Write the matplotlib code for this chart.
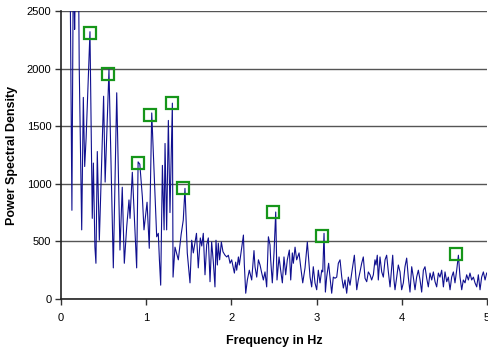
import matplotlib
matplotlib.use("Agg")
import matplotlib.pyplot as plt

# Spectrum line vertices (Hz, PSD)
freq = [0.100, 0.128, 0.145, 0.160, 0.175, 0.205, 0.214, 0.243, 0.262, 0.278, 0.295, 0.340, 0.367, 0.380,
        0.398, 0.410, 0.426, 0.450, 0.500, 0.518, 0.563, 0.614, 0.654, 0.692, 0.719, 0.743, 0.771, 0.798,
        0.810, 0.837, 0.888, 0.905, 0.925, 0.955, 0.974, 1.010, 1.036, 1.065, 1.123, 1.142, 1.155, 1.170,
        1.190, 1.210, 1.221, 1.240, 1.260, 1.279, 1.307, 1.315, 1.338, 1.377, 1.410, 1.435, 1.455, 1.482,
        1.514, 1.534, 1.553, 1.590, 1.611, 1.635, 1.652, 1.670, 1.690, 1.710, 1.729, 1.749, 1.768, 1.788,
        1.807, 1.819, 1.835, 1.846, 1.862, 1.882, 1.901, 1.925, 1.945, 1.964, 1.984, 2.003, 2.023, 2.035,
        2.050, 2.062, 2.082, 2.093, 2.121, 2.141, 2.151, 2.168, 2.187, 2.210, 2.238, 2.265, 2.277, 2.297,
        2.317, 2.336, 2.356, 2.375, 2.394, 2.414, 2.434, 2.453, 2.461, 2.480, 2.500, 2.520, 2.535, 2.559,
        2.578, 2.598, 2.617, 2.637, 2.656, 2.680, 2.696, 2.715, 2.727, 2.747, 2.766, 2.794, 2.813, 2.837,
        2.864, 2.891, 2.923, 2.942, 2.961, 2.981, 3.001, 3.020, 3.040, 3.060, 3.072, 3.087, 3.103, 3.118,
        3.141, 3.157, 3.177, 3.196, 3.216, 3.236, 3.255, 3.275, 3.295, 3.314, 3.333, 3.353, 3.372, 3.392,
        3.412, 3.443, 3.471, 3.489, 3.509, 3.529, 3.548, 3.568, 3.588, 3.607, 3.627, 3.646, 3.666, 3.685,
        3.697, 3.712, 3.724, 3.744, 3.764, 3.783, 3.803, 3.822, 3.842, 3.862, 3.881, 3.893, 3.908, 3.920,
        3.940, 3.959, 3.979, 3.998, 4.018, 4.037, 4.057, 4.076, 4.096, 4.116, 4.135, 4.155, 4.174, 4.194,
        4.214, 4.233, 4.253, 4.272, 4.292, 4.311, 4.331, 4.351, 4.370, 4.390, 4.409, 4.429, 4.448, 4.468,
        4.488, 4.507, 4.527, 4.546, 4.566, 4.585, 4.605, 4.624, 4.644, 4.664, 4.683, 4.703, 4.722, 4.742,
        4.761, 4.781, 4.800, 4.820, 4.840, 4.859, 4.879, 4.898, 4.918, 4.937, 4.957, 4.977, 4.996]
psd = [3500, 770, 3000, 2340, 3000, 2900, 2010, 600, 1750, 1150, 1400, 2320, 700, 1180,
       450, 310, 1280, 510, 1760, 1015, 1990, 270, 1790, 425, 970, 310, 625, 860,
       700, 1100, 270, 1190, 1170, 885, 600, 840, 440, 1615, 540, 570, 340, 120,
       1160, 600, 1350, 600, 1550, 750, 1700, 190, 450, 340, 560, 685, 960, 400,
       140, 510, 400, 570, 270, 530, 460, 570, 210, 470, 530, 150, 495, 320,
       105, 510, 295, 485, 340, 495, 410, 380, 365, 380, 310, 340, 270, 225,
       320, 250, 365, 295, 450, 555, 310, 50, 165, 250, 165, 420, 280, 190,
       340, 295, 225, 165, 235, 105, 540, 470, 340, 140, 400, 755, 165, 365,
       250, 140, 365, 210, 340, 425, 165, 400, 310, 450, 340, 400, 280, 140,
       270, 495, 190, 105, 280, 140, 80, 250, 140, 250, 235, 570, 60, 190,
       310, 190, 50, 190, 180, 190, 310, 340, 190, 95, 165, 50, 190, 120,
       225, 380, 80, 165, 235, 310, 365, 180, 150, 235, 210, 165, 210, 340,
       295, 380, 165, 365, 235, 190, 340, 380, 235, 105, 280, 380, 165, 80,
       190, 295, 235, 80, 140, 280, 355, 190, 60, 280, 190, 80, 190, 250,
       165, 60, 250, 280, 180, 105, 225, 165, 235, 150, 105, 225, 190, 250,
       105, 235, 150, 190, 80, 190, 235, 140, 250, 380, 190, 80, 165, 140,
       210, 165, 225, 165, 190, 140, 105, 210, 80, 190, 235, 165, 225]

# Highlighted peaks
peak_freq = [0.34, 0.55, 0.90, 1.045, 1.30, 1.43, 2.49, 3.06, 4.64]
peak_psd = [2310, 1955, 1180, 1600, 1700, 965, 755, 550, 390]

x_ticks = [0, 1, 2, 3, 4, 5]
y_ticks = [0, 500, 1000, 1500, 2000, 2500]

plt.rcParams['font.family'] = ['Liberation Sans', 'DejaVu Sans']

fig = plt.figure(figsize=(4.88, 3.49), dpi=100)
ax = fig.add_axes([0.125, 0.1433, 0.873, 0.8252])

ax.plot(freq, psd, color='#10108f', linewidth=0.8, zorder=3)
ax.plot(peak_freq, peak_psd, linestyle='none', marker='s', markersize=8.5,
        markerfacecolor='none', markeredgecolor='#16961a', markeredgewidth=1.6, zorder=4)

ax.set_xlim(0, 5)
ax.set_ylim(0, 2500)
ax.set_xticks(x_ticks)
ax.set_yticks(y_ticks)
ax.tick_params(axis='both', labelsize=8, direction='out', length=4, width=1, color='#333333')
ax.tick_params(axis='x', pad=6)
ax.tick_params(axis='y', pad=3)
ax.yaxis.grid(True, color='#555555', linewidth=1.0)
ax.set_axisbelow(True)
for s in ['top', 'right']:
    ax.spines[s].set_visible(False)
for s in ['left', 'bottom']:
    ax.spines[s].set_color('#222222')
    ax.spines[s].set_linewidth(1.2)

ax.set_xlabel('Frequency in Hz', fontsize=9, fontweight='bold', labelpad=9)
ax.set_ylabel('Power Spectral Density', fontsize=9, fontweight='bold', labelpad=6)

fig.savefig('out.png', dpi=100)
